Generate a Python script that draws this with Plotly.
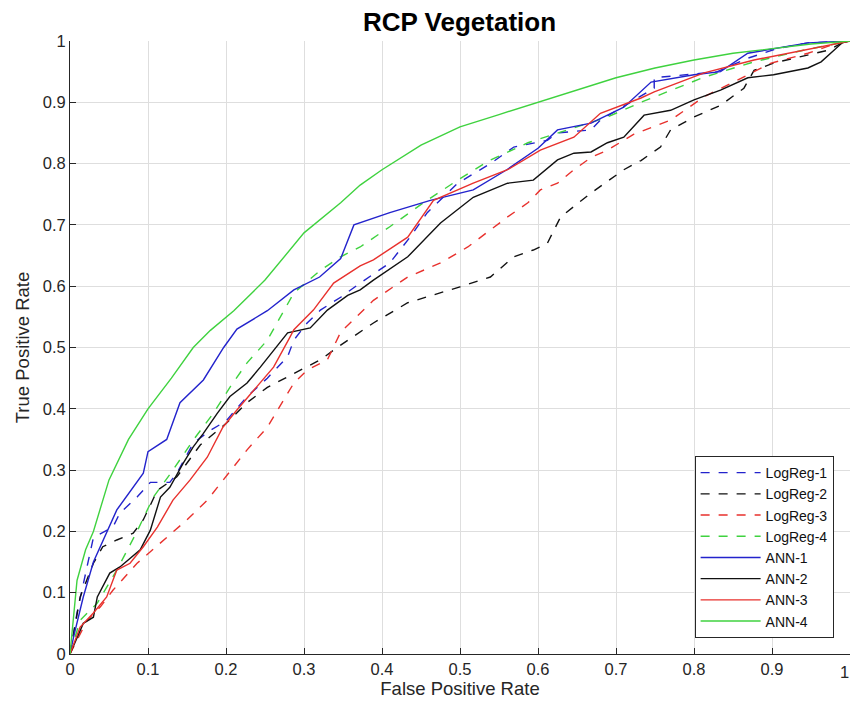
import plotly.graph_objects as go

# ---- data ----
logreg1_x = [0,0.009,0.03,0.055,0.064,0.086,0.103,0.128,0.137,0.158,0.18,0.2,0.227,0.253,0.279,0.287,0.304,0.321,0.347,0.372,0.41,0.436,0.458,0.497,0.539,0.569,0.612,0.625,0.668,0.68,0.749,0.749,0.83,0.869,0.908,0.946,1]
logreg1_y = [0,0.067,0.19,0.207,0.23,0.256,0.28,0.28,0.295,0.344,0.365,0.38,0.42,0.45,0.485,0.512,0.54,0.561,0.582,0.605,0.638,0.68,0.72,0.768,0.80,0.827,0.838,0.85,0.855,0.871,0.923,0.94,0.95,0.972,0.988,0.997,1]

logreg2_x = [0,0.013,0.03,0.042,0.06,0.081,0.094,0.112,0.137,0.167,0.2,0.227,0.253,0.287,0.321,0.347,0.389,0.433,0.475,0.5,0.539,0.569,0.594,0.612,0.629,0.668,0.71,0.732,0.757,0.77,0.80,0.834,0.864,0.877,0.902,0.946,0.972,0.99,1]
logreg2_y = [0,0.093,0.148,0.175,0.186,0.197,0.219,0.267,0.289,0.341,0.376,0.41,0.435,0.458,0.48,0.504,0.54,0.573,0.589,0.599,0.615,0.648,0.659,0.67,0.713,0.752,0.79,0.805,0.827,0.855,0.876,0.895,0.923,0.952,0.964,0.977,0.985,0.997,1]

logreg3_x = [0,0.022,0.039,0.055,0.086,0.116,0.15,0.176,0.2,0.227,0.253,0.287,0.304,0.33,0.347,0.389,0.433,0.475,0.51,0.539,0.561,0.587,0.603,0.625,0.646,0.668,0.689,0.723,0.77,0.813,0.856,0.899,0.946,0.98,1]
logreg3_y = [0,0.055,0.077,0.104,0.148,0.181,0.219,0.251,0.289,0.333,0.37,0.442,0.463,0.48,0.525,0.577,0.615,0.638,0.664,0.692,0.713,0.736,0.757,0.768,0.79,0.81,0.822,0.848,0.871,0.909,0.936,0.964,0.98,0.995,1]

logreg4_x = [0,0.013,0.035,0.06,0.086,0.107,0.132,0.158,0.184,0.205,0.227,0.253,0.287,0.321,0.347,0.372,0.41,0.453,0.497,0.539,0.587,0.625,0.689,0.732,0.813,0.877,0.94,1]
logreg4_y = [0,0.055,0.083,0.137,0.20,0.256,0.30,0.349,0.393,0.435,0.475,0.512,0.589,0.626,0.648,0.664,0.697,0.736,0.773,0.806,0.834,0.85,0.876,0.90,0.941,0.966,0.985,1]

ann1_x = [0,0.005,0.017,0.03,0.06,0.094,0.1,0.124,0.141,0.171,0.197,0.214,0.253,0.287,0.32,0.347,0.364,0.41,0.462,0.517,0.56,0.60,0.625,0.668,0.71,0.745,0.80,0.834,0.869,0.946,1]
ann1_y = [0,0.03,0.093,0.15,0.235,0.295,0.33,0.35,0.41,0.447,0.50,0.53,0.56,0.594,0.615,0.645,0.70,0.72,0.74,0.757,0.79,0.825,0.855,0.866,0.892,0.933,0.945,0.95,0.98,0.997,1]

ann2_x = [0,0.017,0.03,0.035,0.051,0.064,0.09,0.103,0.116,0.128,0.145,0.158,0.171,0.189,0.205,0.227,0.244,0.261,0.279,0.308,0.33,0.356,0.372,0.389,0.433,0.475,0.517,0.561,0.594,0.625,0.646,0.668,0.689,0.71,0.736,0.77,0.80,0.834,0.869,0.902,0.946,0.963,0.98,0.99,1]
ann2_y = [0,0.05,0.06,0.093,0.132,0.142,0.17,0.202,0.256,0.272,0.311,0.338,0.36,0.393,0.42,0.442,0.468,0.496,0.524,0.532,0.561,0.585,0.594,0.61,0.648,0.703,0.745,0.768,0.773,0.806,0.817,0.819,0.834,0.843,0.879,0.887,0.904,0.92,0.94,0.945,0.956,0.966,0.985,0.997,1]

ann3_x = [0,0.013,0.03,0.047,0.06,0.077,0.094,0.112,0.132,0.154,0.176,0.196,0.214,0.235,0.261,0.282,0.287,0.312,0.338,0.372,0.389,0.433,0.466,0.517,0.561,0.603,0.646,0.68,0.732,0.749,0.813,0.877,0.94,1]
ann3_y = [0,0.044,0.067,0.093,0.137,0.148,0.175,0.207,0.251,0.284,0.321,0.37,0.398,0.43,0.468,0.517,0.529,0.561,0.605,0.633,0.643,0.68,0.74,0.768,0.79,0.822,0.843,0.882,0.907,0.917,0.948,0.969,0.985,1]

ann4_x = [0,0.003,0.009,0.02,0.03,0.05,0.075,0.1,0.13,0.158,0.18,0.21,0.25,0.3,0.347,0.372,0.4,0.45,0.5,0.55,0.6,0.65,0.7,0.75,0.8,0.85,0.9,0.95,1]
ann4_y = [0,0.04,0.12,0.17,0.2,0.284,0.35,0.40,0.45,0.5,0.528,0.56,0.61,0.687,0.736,0.765,0.79,0.83,0.86,0.88,0.90,0.92,0.94,0.956,0.969,0.98,0.988,0.995,1]

tick_vals = [0, 0.1, 0.2, 0.3, 0.4, 0.5, 0.6, 0.7, 0.8, 0.9, 1]
tick_text = ["0", "0.1", "0.2", "0.3", "0.4", "0.5", "0.6", "0.7", "0.8", "0.9", "1"]

series = [
    ("LogReg-1", logreg1_x, logreg1_y, "#2323cc", "dash"),
    ("LogReg-2", logreg2_x, logreg2_y, "#111111", "dash"),
    ("LogReg-3", logreg3_x, logreg3_y, "#e8312d", "dash"),
    ("LogReg-4", logreg4_x, logreg4_y, "#3fd23f", "dash"),
    ("ANN-1", ann1_x, ann1_y, "#2323cc", "solid"),
    ("ANN-2", ann2_x, ann2_y, "#111111", "solid"),
    ("ANN-3", ann3_x, ann3_y, "#e8312d", "solid"),
    ("ANN-4", ann4_x, ann4_y, "#3fd23f", "solid"),
]

fig = go.Figure()
for name, xs, ys, col, dash in series:
    fig.add_trace(go.Scatter(x=xs, y=ys, mode="lines", name=name,
                             line=dict(color=col, width=1.4, dash=dash)))

FONT = "Liberation Sans, Arial"
TICKFONT = dict(family=FONT, size=16.5, color="#262626")
axis_common = dict(
    range=[0, 1], tickvals=tick_vals,
    showgrid=True, gridcolor="#dedede", gridwidth=1,
    showline=True, linecolor="#262626", linewidth=1,
    ticks="inside", ticklen=6, tickcolor="#262626",
    zeroline=False, mirror=False, automargin=False,
    tickfont=TICKFONT,
    title_font=dict(family=FONT, size=18.5, color="#262626"),
)

# the last x tick label sits at the window edge: draw it as a right-aligned annotation
x_ticktext = tick_text[:-1] + [""]

fig.update_layout(
    width=851, height=713,
    paper_bgcolor="white", plot_bgcolor="white",
    margin=dict(l=70, r=1, t=41, b=59),
    title=dict(text="<b>RCP Vegetation</b>", x=(70 + 389.5) / 851, xanchor="center",
               y=1 - 22 / 713, yanchor="middle",
               font=dict(family=FONT, size=26, color="black")),
    xaxis=dict(axis_common, ticktext=x_ticktext,
               title=dict(text="False Positive Rate", standoff=3)),
    yaxis=dict(axis_common, ticktext=tick_text,
               title=dict(text="True Positive Rate", standoff=8)),
    legend=dict(x=0.979, y=0.026, xanchor="right", yanchor="bottom",
                bgcolor="white", bordercolor="#262626", borderwidth=1,
                font=dict(family=FONT, size=14, color="#111111"),
                tracegroupgap=0, itemwidth=60),
    showlegend=True,
)

fig.add_annotation(x=tick_vals[-1], y=0, xref="x", yref="y", text=tick_text[-1],
                   showarrow=False, xanchor="right", yanchor="top", xshift=1, yshift=-7,
                   font=TICKFONT)

fig.write_html("out.html")
